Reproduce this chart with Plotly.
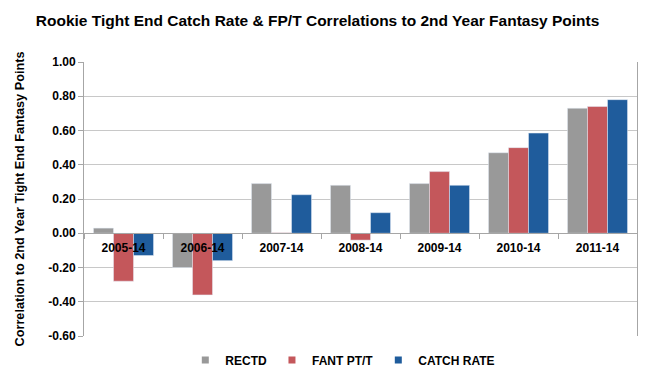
import plotly.graph_objects as go

categories = ["2005-14", "2006-14", "2007-14", "2008-14", "2009-14", "2010-14", "2011-14"]
rectd = [0.03, -0.20, 0.29, 0.28, 0.29, 0.47, 0.73]
fant_pt_t = [-0.28, -0.36, 0.003, -0.04, 0.36, 0.50, 0.74]
catch_rate = [-0.13, -0.16, 0.225, 0.12, 0.28, 0.585, 0.78]
y_ticks = [1.0, 0.8, 0.6, 0.4, 0.2, 0.0, -0.2, -0.4, -0.6]

series = [("RECTD", rectd, "#999999"),
          ("FANT PT/T", fant_pt_t, "#c4575b"),
          ("CATCH RATE", catch_rate, "#1f5c9c")]

font_family = "Liberation Sans, Arial, sans-serif"

fig = go.Figure()
for name, vals, col in series:
    fig.add_trace(go.Bar(name=name, x=categories, y=vals, marker_color=col, showlegend=False))
for name, vals, col in series:
    fig.add_trace(go.Scatter(name=name, x=[None], y=[None], mode="markers",
                             marker=dict(symbol="square", size=7, color=col)))

ymin, ymax = -0.6, 1.0
# page body has an 8px margin, so the figure is sized to fill the rest of the window
fig.update_layout(
    width=641, height=384,
    margin=dict(l=75, r=11, t=54, b=56),
    paper_bgcolor="white", plot_bgcolor="white",
    barmode="group", bargap=0.24, bargroupgap=0,
    title=dict(text="Rookie Tight End Catch Rate & FP/T Correlations to 2nd Year Fantasy Points",
               x=0.483, xanchor="center", y=0.968, yanchor="middle",
               font=dict(family=font_family, size=15.5, color="black", weight="bold")),
    font=dict(family=font_family, color="black"),
    showlegend=True,
    legend=dict(orientation="h", x=0.468, xanchor="center", y=-0.035, yanchor="top",
                font=dict(family=font_family, size=12, weight="bold"),
                itemwidth=30, traceorder="normal"),
    xaxis=dict(
        type="category", anchor="free", position=(0 - ymin) / (ymax - ymin),
        showline=True, linecolor="#a6a6a6", linewidth=1,
        ticks="outside", tickson="boundaries", ticklen=5, tickcolor="#a6a6a6",
        ticklabelstandoff=3,
        tickfont=dict(family=font_family, size=12, weight="bold", color="black"),
        showgrid=False, zeroline=False,
    ),
    yaxis=dict(
        range=[ymin, ymax], tickvals=y_ticks, ticktext=[f"{v:.2f}" for v in y_ticks],
        showline=True, linecolor="#a6a6a6", linewidth=1, mirror=True,
        ticks="outside", ticklen=5, tickcolor="#a6a6a6",
        showgrid=True, gridcolor="#c8c8c8", gridwidth=1, zeroline=False,
        tickfont=dict(family=font_family, size=12, weight="bold", color="black"),
        title=dict(text="Correlation to 2nd Year Tight End Fantasy Points", standoff=20,
                   font=dict(family=font_family, size=12.7, weight="bold", color="black")),
    ),
)

fig.write_html("out.html")
